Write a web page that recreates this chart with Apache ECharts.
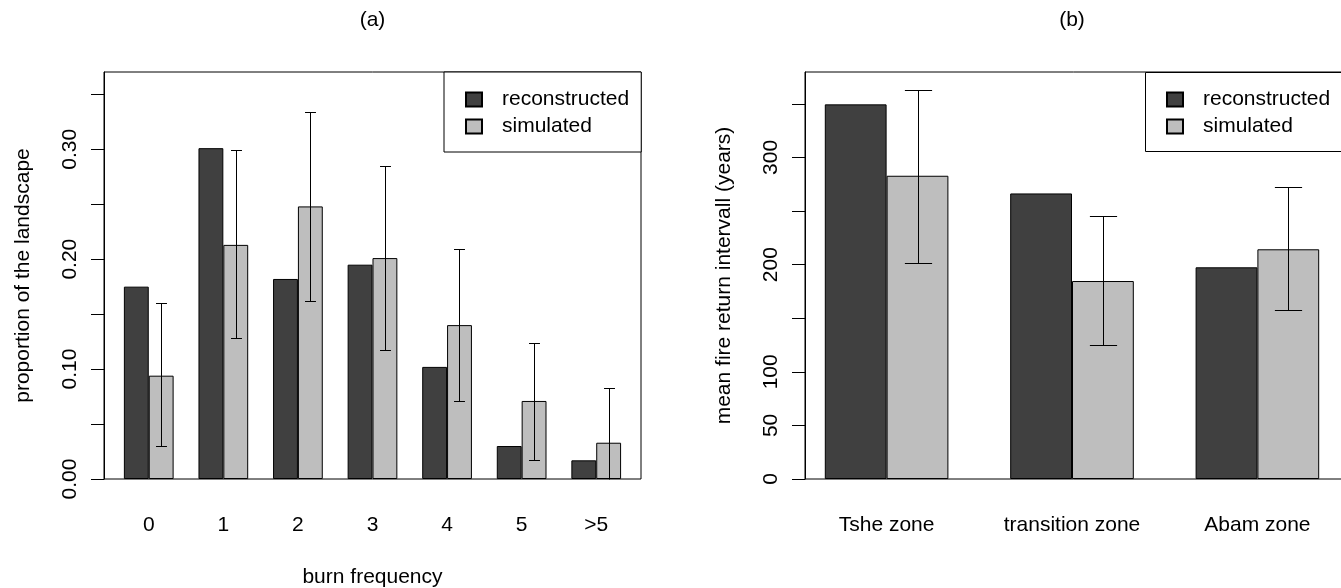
<!DOCTYPE html>
<html><head><meta charset="utf-8">
<script src="https://cdn.jsdelivr.net/npm/echarts@6/dist/echarts.min.js"></script>
<style>html,body{margin:0;padding:0;background:#fff}#c{width:1341px;height:588px}</style>
</head><body><div id="c"></div>
<script>
// ---- panel (a) data ----
const burnCategories = ['0', '1', '2', '3', '4', '5', '>5'];
const burnReconstructed = [0.175, 0.301, 0.182, 0.195, 0.102, 0.030, 0.017];
const burnSimulated = [0.094, 0.213, 0.248, 0.201, 0.140, 0.071, 0.033];
const burnSimLow = [0.030, 0.128, 0.162, 0.117, 0.071, 0.017, -0.016];
const burnSimHigh = [0.160, 0.299, 0.334, 0.285, 0.209, 0.124, 0.083];
const burnYTicks = [0, 0.05, 0.10, 0.15, 0.20, 0.25, 0.30, 0.35];
const burnYLabels = [0, 0.10, 0.20, 0.30];
const burnYMax = 0.3703;

// ---- panel (b) data ----
const zoneCategories = ['Tshe zone', 'transition zone', 'Abam zone'];
const zoneReconstructed = [349.5, 266.4, 197.5];
const zoneSimulated = [282.9, 184.7, 214.3];
const zoneSimLow = [201.6, 124.6, 157.3];
const zoneSimHigh = [363.2, 245.5, 272.6];
const zoneYTicks = [0, 50, 100, 150, 200, 250, 300, 350];
const zoneYLabels = [0, 50, 100, 200, 300];
const zoneYMax = 379.7;

const FONT = 'Liberation Sans, Arial, Helvetica, sans-serif';
const FS = 21;
const DARK = '#404040', LIGHT = '#bebebe';
const TOP = 72, H = 407;

function errRender(params, api) {
  const i = api.value(0);
  const band = api.size([1, 0])[0];
  const barW = band / 3;
  const x = Math.round(api.coord([i, 0])[0] + barW / 2) + 0.5;
  const lo = api.value(1), hi = api.value(2);
  const yHi = Math.round(api.coord([i, hi])[1]) + 0.5;
  const yLo = Math.round(api.coord([i, Math.max(lo, 0)])[1]) + 0.5;
  const cap = barW * 0.22;
  const style = { stroke: '#000', lineWidth: 1 };
  const children = [
    { type: 'line', shape: { x1: x, y1: yLo, x2: x, y2: yHi }, style },
    { type: 'line', shape: { x1: x - cap, y1: yHi, x2: x + cap, y2: yHi }, style }
  ];
  if (lo >= 0) children.push({ type: 'line', shape: { x1: x - cap, y1: yLo, x2: x + cap, y2: yLo }, style });
  return { type: 'group', children };
}

function frameY(ticks, labels, max, name, fmt) {
  return {
    type: 'value', min: 0, max: max,
    axisLine: { show: true, lineStyle: { color: '#000', width: 1 } },
    axisTick: { show: true, length: 13, customValues: ticks, lineStyle: { color: '#000', width: 1 } },
    axisLabel: { show: true, customValues: labels, rotate: 90, margin: 23, color: '#000', fontFamily: FONT, fontSize: FS, formatter: fmt },
    splitLine: { show: false },
    name: name, nameLocation: 'middle', nameRotate: 90, nameGap: 70,
    nameTextStyle: { color: '#000', fontFamily: FONT, fontSize: FS }
  };
}

const legendBase = {
  orient: 'vertical', top: TOP, backgroundColor: '#fff',
  borderColor: '#000', borderWidth: 1, borderRadius: 0,
  padding: [17, 12, 15, 21], itemGap: 6, itemWidth: 16, itemHeight: 14,
  icon: 'rect', selectedMode: false,
  textStyle: { color: '#000', fontFamily: FONT, fontSize: FS, lineHeight: 21, padding: [0, 0, 0, 15] },
  data: ['reconstructed', 'simulated']
};

const gridBase = { top: TOP, height: H, outerBoundsMode: 'none', containLabel: false };

const option = {
  backgroundColor: '#fff',
  animation: false,
  grid: [
    Object.assign({ left: 104, width: 537, show: true, borderColor: '#000', borderWidth: 1, backgroundColor: 'transparent' }, gridBase),
    Object.assign({ left: 111.46, width: 522.06 }, gridBase),
    Object.assign({ left: 805, width: 537, show: true, borderColor: '#000', borderWidth: 1, backgroundColor: 'transparent' }, gridBase),
    Object.assign({ left: 793.9, width: 556.2 }, gridBase)
  ],
  xAxis: [
    { gridIndex: 0, type: 'value', min: 0, max: 1, show: false },
    { gridIndex: 1, type: 'category', data: burnCategories,
      axisLine: { show: false }, axisTick: { show: false },
      axisLabel: { color: '#000', fontFamily: FONT, fontSize: FS, margin: 36, interval: 0 },
      name: 'burn frequency', nameLocation: 'middle', nameGap: 88,
      nameTextStyle: { color: '#000', fontFamily: FONT, fontSize: FS } },
    { gridIndex: 2, type: 'value', min: 0, max: 1, show: false },
    { gridIndex: 3, type: 'category', data: zoneCategories,
      axisLine: { show: false }, axisTick: { show: false },
      axisLabel: { color: '#000', fontFamily: FONT, fontSize: FS, margin: 36, interval: 0 } }
  ],
  yAxis: [
    Object.assign({ gridIndex: 0 }, frameY(burnYTicks, burnYLabels, burnYMax, 'proportion of the landscape', v => v.toFixed(2))),
    { gridIndex: 1, type: 'value', min: 0, max: burnYMax, show: false },
    Object.assign({ gridIndex: 2 }, frameY(zoneYTicks, zoneYLabels, zoneYMax, 'mean fire return intervall (years)', v => String(v))),
    { gridIndex: 3, type: 'value', min: 0, max: zoneYMax, show: false }
  ],
  legend: [
    Object.assign({}, legendBase, { left: 444 }),
    Object.assign({}, legendBase, { left: 1145, borderWidth: 0, backgroundColor: 'transparent', padding: [17, 2, 15, 21] })
  ],
  graphic: [
    { type: 'text', x: 372.5, y: 20, style: { text: '(a)', font: FS + 'px ' + FONT, fill: '#000', align: 'center', verticalAlign: 'middle' } },
    { type: 'text', x: 1072, y: 20, style: { text: '(b)', font: FS + 'px ' + FONT, fill: '#000', align: 'center', verticalAlign: 'middle' } },
    { type: 'rect', z: 3, shape: { x: 1145.5, y: 72.5, width: 240, height: 79 }, style: { fill: '#fff', stroke: '#000', lineWidth: 1 } }
  ],
  series: [
    { name: 'reconstructed', type: 'bar', xAxisIndex: 1, yAxisIndex: 1, data: burnReconstructed,
      barWidth: '33.333%', barGap: '0%', itemStyle: { color: DARK, borderColor: '#000', borderWidth: 1 } },
    { name: 'simulated', type: 'bar', xAxisIndex: 1, yAxisIndex: 1, data: burnSimulated,
      barWidth: '33.333%', barGap: '0%', itemStyle: { color: LIGHT, borderColor: '#000', borderWidth: 1 } },
    { type: 'custom', xAxisIndex: 1, yAxisIndex: 1, z: 5, renderItem: errRender, silent: true,
      encode: { x: 0, y: [1, 2] },
      data: burnCategories.map((c, i) => [i, burnSimLow[i], burnSimHigh[i]]) },
    { name: 'reconstructed', type: 'bar', xAxisIndex: 3, yAxisIndex: 3, data: zoneReconstructed,
      barWidth: '33.333%', barGap: '0%', itemStyle: { color: DARK, borderColor: '#000', borderWidth: 1 } },
    { name: 'simulated', type: 'bar', xAxisIndex: 3, yAxisIndex: 3, data: zoneSimulated,
      barWidth: '33.333%', barGap: '0%', itemStyle: { color: LIGHT, borderColor: '#000', borderWidth: 1 } },
    { type: 'custom', xAxisIndex: 3, yAxisIndex: 3, z: 5, renderItem: errRender, silent: true,
      encode: { x: 0, y: [1, 2] },
      data: zoneCategories.map((c, i) => [i, zoneSimLow[i], zoneSimHigh[i]]) }
  ]
};

const chart = echarts.init(document.getElementById('c'), null, { renderer: 'canvas' });
chart.setOption(option);
</script>
</body></html>
